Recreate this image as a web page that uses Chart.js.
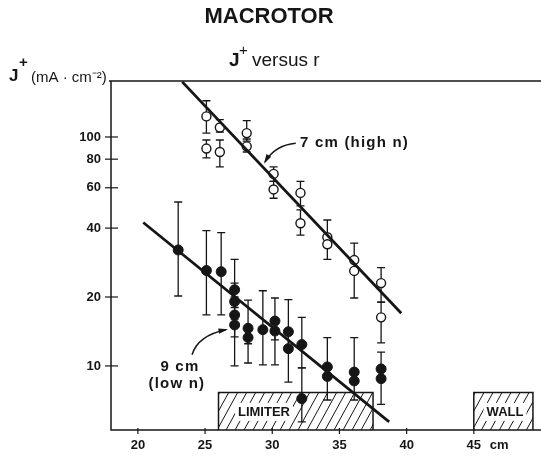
<!DOCTYPE html>
<html>
<head>
<meta charset="utf-8">
<script src="https://cdn.jsdelivr.net/npm/chart.js@4.4.0/dist/chart.umd.min.js"></script>
<style>
  html, body { margin: 0; padding: 0; background: #fff; }
</style>
</head>
<body>
<canvas id="chart" width="541" height="456"></canvas>
<script>
// radius r (cm) and ion current density J+ (mA/cm2)
const openR  = [25.1, 25.1, 26.1, 26.1, 28.1, 28.1, 30.1, 30.1, 32.1, 32.1, 34.1, 34.1, 36.1, 36.1, 38.1, 38.1];
const openJ  = [123, 89, 110, 86, 104, 91, 69, 59, 57, 42, 36.5, 34, 29, 26, 23, 16.3];
const openLo = [104, 81, 105, 74, 96, 86, 64, 54, 50, 37.3, 33, 29.2, 26, 19.8, 19, 12.6];
const openHi = [144, 97, 119, 97, 118, 98, 74, 64, 64, 48, 43.4, 37, 34.4, 29, 26.9, 19];

const closedR  = [23.0, 25.1, 26.2, 27.2, 27.2, 27.2, 27.2, 28.2, 28.2, 29.3, 30.2, 30.2, 31.2, 31.2, 32.2, 32.2, 34.1, 34.1, 36.1, 36.1, 38.1, 38.1];
const closedJ  = [32.1, 26.1, 25.8, 21.5, 19.1, 16.7, 15.1, 14.6, 13.3, 14.4, 15.7, 14.2, 14.1, 11.9, 12.4, 7.2, 9.9, 9.0, 9.4, 8.6, 9.7, 8.8];
const closedLo = [20.2, 16.7, 16.7, 18, 16, 13.4, 10, 12.5, 10.3, 10.1, 13, 10.1, 12, 8.5, 9.8, 5.7, 9, 7.1, 8.6, 7.1, 8.8, 6.8];
const closedHi = [52, 39, 38.2, 29.2, 23, 20, 17, 19.4, 15, 21.3, 19.8, 16, 19.5, 14, 16.3, 9.8, 13.3, 9.9, 13.3, 9.4, 11.5, 9.7];

// fitted lines (end points)
const fit7R = [23.3, 39.6];
const fit7J = [174, 17.0];
const fit9R = [20.4, 38.7];
const fit9J = [42.3, 5.7];

const xTicks = [20, 25, 30, 35, 40, 45];
const yTicks = [10, 20, 40, 60, 80, 100];

// limiter and wall extents (cm) and the height of their boxes (J units)
const limiterR = [26.0, 37.5];
const wallR = [45.0, 49.4];
const boxTopJ = 7.65;

const FONT = '"Liberation Sans", Arial, Helvetica, sans-serif';
const INK = '#161616';

function pts(xs, ys) {
  return xs.map((v, i) => ({ x: v, y: ys[i] }));
}

function hatchBox(ctx, x, y, r0, r1, topJ) {
  const left = x.getPixelForValue(r0);
  const right = x.getPixelForValue(r1);
  const top = y.getPixelForValue(topJ);
  const bottom = y.bottom;
  ctx.save();
  ctx.beginPath();
  ctx.rect(left, top, right - left, bottom - top);
  ctx.clip();
  ctx.strokeStyle = INK;
  ctx.lineWidth = 1;
  const h = bottom - top;
  for (let sx = left - h; sx < right + 10; sx += 9) {
    ctx.beginPath();
    ctx.moveTo(sx, bottom);
    ctx.lineTo(sx + h * 0.55, top);
    ctx.stroke();
  }
  ctx.restore();
  ctx.strokeStyle = INK;
  ctx.lineWidth = 1.5;
  ctx.beginPath();
  ctx.moveTo(left, bottom);
  ctx.lineTo(left, top);
  ctx.lineTo(right, top);
  ctx.lineTo(right, bottom);
  ctx.stroke();
}

function boxLabel(ctx, x, y, text, r, j) {
  ctx.font = 'bold 13px ' + FONT;
  const w = ctx.measureText(text).width;
  const px = x.getPixelForValue(r);
  const py = y.getPixelForValue(j);
  ctx.fillStyle = '#fff';
  ctx.fillRect(px - 3, py - 9, w + 6, 18);
  ctx.fillStyle = INK;
  ctx.textAlign = 'left';
  ctx.textBaseline = 'middle';
  ctx.fillText(text, px, py + 1);
}

function errorBars(ctx, x, y, rs, lo, hi) {
  ctx.strokeStyle = INK;
  ctx.lineWidth = 1.3;
  rs.forEach((r, i) => {
    const px = x.getPixelForValue(r);
    const y0 = y.getPixelForValue(lo[i]);
    const y1 = y.getPixelForValue(hi[i]);
    ctx.beginPath();
    ctx.moveTo(px, y0); ctx.lineTo(px, y1);
    ctx.moveTo(px - 4, y0); ctx.lineTo(px + 4, y0);
    ctx.moveTo(px - 4, y1); ctx.lineTo(px + 4, y1);
    ctx.stroke();
  });
}

function arrow(ctx, x, y, from, ctrl, to) {
  const p0 = [x.getPixelForValue(from[0]), y.getPixelForValue(from[1])];
  const c = [x.getPixelForValue(ctrl[0]), y.getPixelForValue(ctrl[1])];
  const p1 = [x.getPixelForValue(to[0]), y.getPixelForValue(to[1])];
  ctx.strokeStyle = INK;
  ctx.fillStyle = INK;
  ctx.lineWidth = 1.5;
  ctx.beginPath();
  ctx.moveTo(p0[0], p0[1]);
  ctx.quadraticCurveTo(c[0], c[1], p1[0], p1[1]);
  ctx.stroke();
  const ang = Math.atan2(p1[1] - c[1], p1[0] - c[0]);
  ctx.beginPath();
  ctx.moveTo(p1[0] + 2 * Math.cos(ang), p1[1] + 2 * Math.sin(ang));
  ctx.lineTo(p1[0] - 8 * Math.cos(ang - 0.35), p1[1] - 8 * Math.sin(ang - 0.35));
  ctx.lineTo(p1[0] - 8 * Math.cos(ang + 0.35), p1[1] - 8 * Math.sin(ang + 0.35));
  ctx.closePath();
  ctx.fill();
}

const decor = {
  id: 'decor',
  beforeDatasetsDraw(chart) {
    const { ctx, scales: { x, y } } = chart;
    ctx.save();
    hatchBox(ctx, x, y, limiterR[0], limiterR[1], boxTopJ);
    hatchBox(ctx, x, y, wallR[0], wallR[1], boxTopJ);
    boxLabel(ctx, x, y, 'LIMITER', 27.45, 6.3);
    boxLabel(ctx, x, y, 'WALL', 45.95, 6.3);
    errorBars(ctx, x, y, openR, openLo, openHi);
    errorBars(ctx, x, y, closedR, closedLo, closedHi);
    ctx.restore();
  },
  afterDraw(chart) {
    const { ctx, chartArea: a, scales: { x, y } } = chart;
    ctx.save();
    ctx.strokeStyle = INK;
    ctx.lineWidth = 1.5;
    // axes and top frame line
    ctx.beginPath();
    ctx.moveTo(a.left, a.top); ctx.lineTo(a.left, a.bottom); ctx.lineTo(a.right, a.bottom);
    ctx.moveTo(a.left - 2, a.top); ctx.lineTo(a.right, a.top);
    ctx.stroke();
    ctx.lineWidth = 1.2;
    yTicks.forEach(v => {
      const py = y.getPixelForValue(v);
      ctx.beginPath(); ctx.moveTo(a.left - 6, py); ctx.lineTo(a.left + 7, py); ctx.stroke();
    });
    xTicks.forEach(v => {
      const px = x.getPixelForValue(v);
      ctx.beginPath(); ctx.moveTo(px, a.bottom - 2); ctx.lineTo(px, a.bottom + 4); ctx.stroke();
    });

    ctx.fillStyle = INK;
    ctx.textBaseline = 'middle';
    // unit after the last x tick
    ctx.font = 'bold 13px ' + FONT;
    ctx.textAlign = 'left';
    ctx.fillText('cm', x.getPixelForValue(45) + 16, a.bottom + 15);

    // titles
    ctx.textAlign = 'center';
    ctx.font = 'bold 22px ' + FONT;
    ctx.fillText('MACROTOR', 269, 17);
    ctx.textAlign = 'left';
    ctx.font = 'bold 19px ' + FONT;
    ctx.fillText('J', 229, 61);
    ctx.font = '15px ' + FONT;
    ctx.fillText('+', 239, 51);
    ctx.font = '19px ' + FONT;
    ctx.fillText('versus r', 252, 61);

    // y axis label
    ctx.font = 'bold 17px ' + FONT;
    ctx.fillText('J', 9, 76);
    ctx.font = 'bold 15px ' + FONT;
    ctx.fillText('+', 19, 63);
    ctx.font = '15px ' + FONT;
    ctx.fillText('(mA \u00b7 cm\u207b\u00b2)', 31, 78);

    // curve labels
    ctx.font = 'bold 15px ' + FONT;
    ctx.letterSpacing = '1.2px';
    ctx.textAlign = 'left';
    ctx.fillText('7 cm (high n)', x.getPixelForValue(32.07), y.getPixelForValue(94.2));
    ctx.textAlign = 'center';
    ctx.fillText('9 cm', x.getPixelForValue(23.13), y.getPixelForValue(9.9));
    ctx.fillText('(low n)', x.getPixelForValue(22.9), y.getPixelForValue(8.35));
    ctx.letterSpacing = '0px';

    arrow(ctx, x, y, [31.75, 94], [30.2, 92.3], [29.46, 77.8]);
    arrow(ctx, x, y, [24.03, 11.2], [24.47, 13.6], [26.56, 14.4]);
    ctx.restore();
  }
};

new Chart(document.getElementById('chart'), {
  type: 'scatter',
  data: {
    datasets: [
      {
        type: 'line',
        data: pts(fit7R, fit7J),
        borderColor: INK,
        borderWidth: 2.8,
        pointRadius: 0
      },
      {
        type: 'line',
        data: pts(fit9R, fit9J),
        borderColor: INK,
        borderWidth: 2.8,
        pointRadius: 0
      },
      {
        label: '7 cm (high n)',
        data: pts(openR, openJ),
        pointRadius: 4.5,
        pointBackgroundColor: '#fff',
        pointBorderColor: INK,
        pointBorderWidth: 1.4
      },
      {
        label: '9 cm (low n)',
        data: pts(closedR, closedJ),
        pointRadius: 5,
        pointBackgroundColor: INK,
        pointBorderColor: INK,
        pointBorderWidth: 1
      }
    ]
  },
  options: {
    responsive: false,
    animation: false,
    devicePixelRatio: 1,
    layout: { autoPadding: false, padding: { top: 81, left: 0, right: 0, bottom: 0 } },
    plugins: { legend: { display: false }, tooltip: { enabled: false } },
    scales: {
      x: {
        type: 'linear',
        min: 18,
        max: 50,
        grid: { display: false, drawTicks: false },
        border: { display: false },
        afterFit: s => { s.height = 26; },
        afterBuildTicks: s => { s.ticks = xTicks.map(v => ({ value: v })); },
        ticks: {
          padding: 8,
          color: INK,
          font: { family: FONT, size: 13, weight: 'bold' },
          callback: v => String(v)
        }
      },
      y: {
        type: 'logarithmic',
        min: 5.25,
        max: 175.6,
        grid: { display: false, drawTicks: false },
        border: { display: false },
        afterFit: s => { s.width = 111; },
        afterBuildTicks: s => { s.ticks = yTicks.map(v => ({ value: v })); },
        ticks: {
          padding: 10,
          color: INK,
          font: { family: FONT, size: 13, weight: 'bold' },
          callback: v => String(v)
        }
      }
    }
  },
  plugins: [decor]
});
</script>
</body>
</html>
